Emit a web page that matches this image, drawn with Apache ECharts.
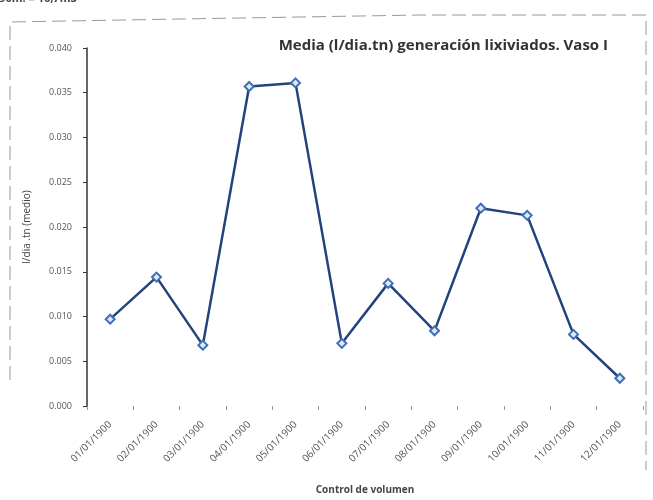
<!DOCTYPE html>
<html>
<head>
<meta charset="utf-8">
<script src="https://cdn.jsdelivr.net/npm/echarts@6/dist/echarts.min.js"></script>
<style>
html, body { margin: 0; padding: 0; background: #fff; }
#main { width: 653px; height: 500px; }
</style>
</head>
<body>
<div id="main"></div>
<script>
var fechas = ['01/01/1900', '02/01/1900', '03/01/1900', '04/01/1900', '05/01/1900', '06/01/1900',
	'07/01/1900', '08/01/1900', '09/01/1900', '10/01/1900', '11/01/1900', '12/01/1900'];
var media = [0.0097, 0.0144, 0.0068, 0.0357, 0.0361, 0.0070, 0.0137, 0.0084, 0.0221, 0.0213, 0.0080, 0.0031];
var titulo = 'Media (l/dia.tn) generación lixiviados. Vaso I';

var chart = echarts.init(document.getElementById('main'), null, { renderer: 'canvas' });

var option = {
	backgroundColor: '#fff',
	animation: false,
	title: {
		text: titulo,
		right: 40,
		top: 33,
		textStyle: {
			fontFamily: 'Open Sans',
			fontSize: 15,
			fontWeight: 'bold',
			color: '#333'
		}
	},
	graphic: [
		{
			type: 'text',
			left: -4,
			top: -7,
			style: { text: ',90m. = 16,7m3', fontFamily: 'Open Sans', fontSize: 11, fontWeight: 'bold', fill: '#444' }
		},
		{
			type: 'polyline',
			shape: { points: [[10, 380], [10, 22], [180, 19], [420, 15], [646, 15], [646, 470]] },
			style: { stroke: '#999', lineWidth: 1, lineDash: [14, 6], fill: null }
		}
	],
	grid: {
		left: 87,
		top: 48,
		width: 556,
		height: 366
	},
	xAxis: {
		type: 'category',
		data: fechas,
		boundaryGap: true,
		name: 'Control de volumen',
		nameLocation: 'middle',
		nameGap: 79,
		nameTextStyle: { fontFamily: 'Open Sans', fontSize: 10, fontWeight: 'bold', color: '#444' },
		axisLine: { show: false },
		axisTick: { show: true, alignWithLabel: false, length: 4, lineStyle: { color: '#999' } },
		axisLabel: {
			rotate: 45,
			margin: 17,
			fontFamily: 'Open Sans',
			fontSize: 10,
			color: '#555'
		}
	},
	yAxis: {
		type: 'value',
		min: 0,
		max: 0.04,
		interval: 0.005,
		name: 'l/dia .tn (medio)',
		nameLocation: 'middle',
		nameGap: 55,
		nameTextStyle: { fontFamily: 'Open Sans', fontSize: 10, color: '#444' },
		axisLine: { show: true, lineStyle: { color: '#333', width: 1.5 } },
		axisTick: { show: true, length: 4, lineStyle: { color: '#333' } },
		splitLine: { show: false },
		axisLabel: {
			fontFamily: 'Open Sans',
			fontSize: 9,
			color: '#555',
			margin: 15,
			formatter: function (v) { return v.toFixed(3); }
		}
	},
	series: [{
		type: 'line',
		data: media,
		symbol: 'diamond',
		symbolSize: 9,
		lineStyle: { color: '#23427e', width: 2.5 },
		itemStyle: { color: '#dfe9f7', borderColor: '#3f6fb4', borderWidth: 2 }
	}]
};

chart.setOption(option);
</script>
</body>
</html>
